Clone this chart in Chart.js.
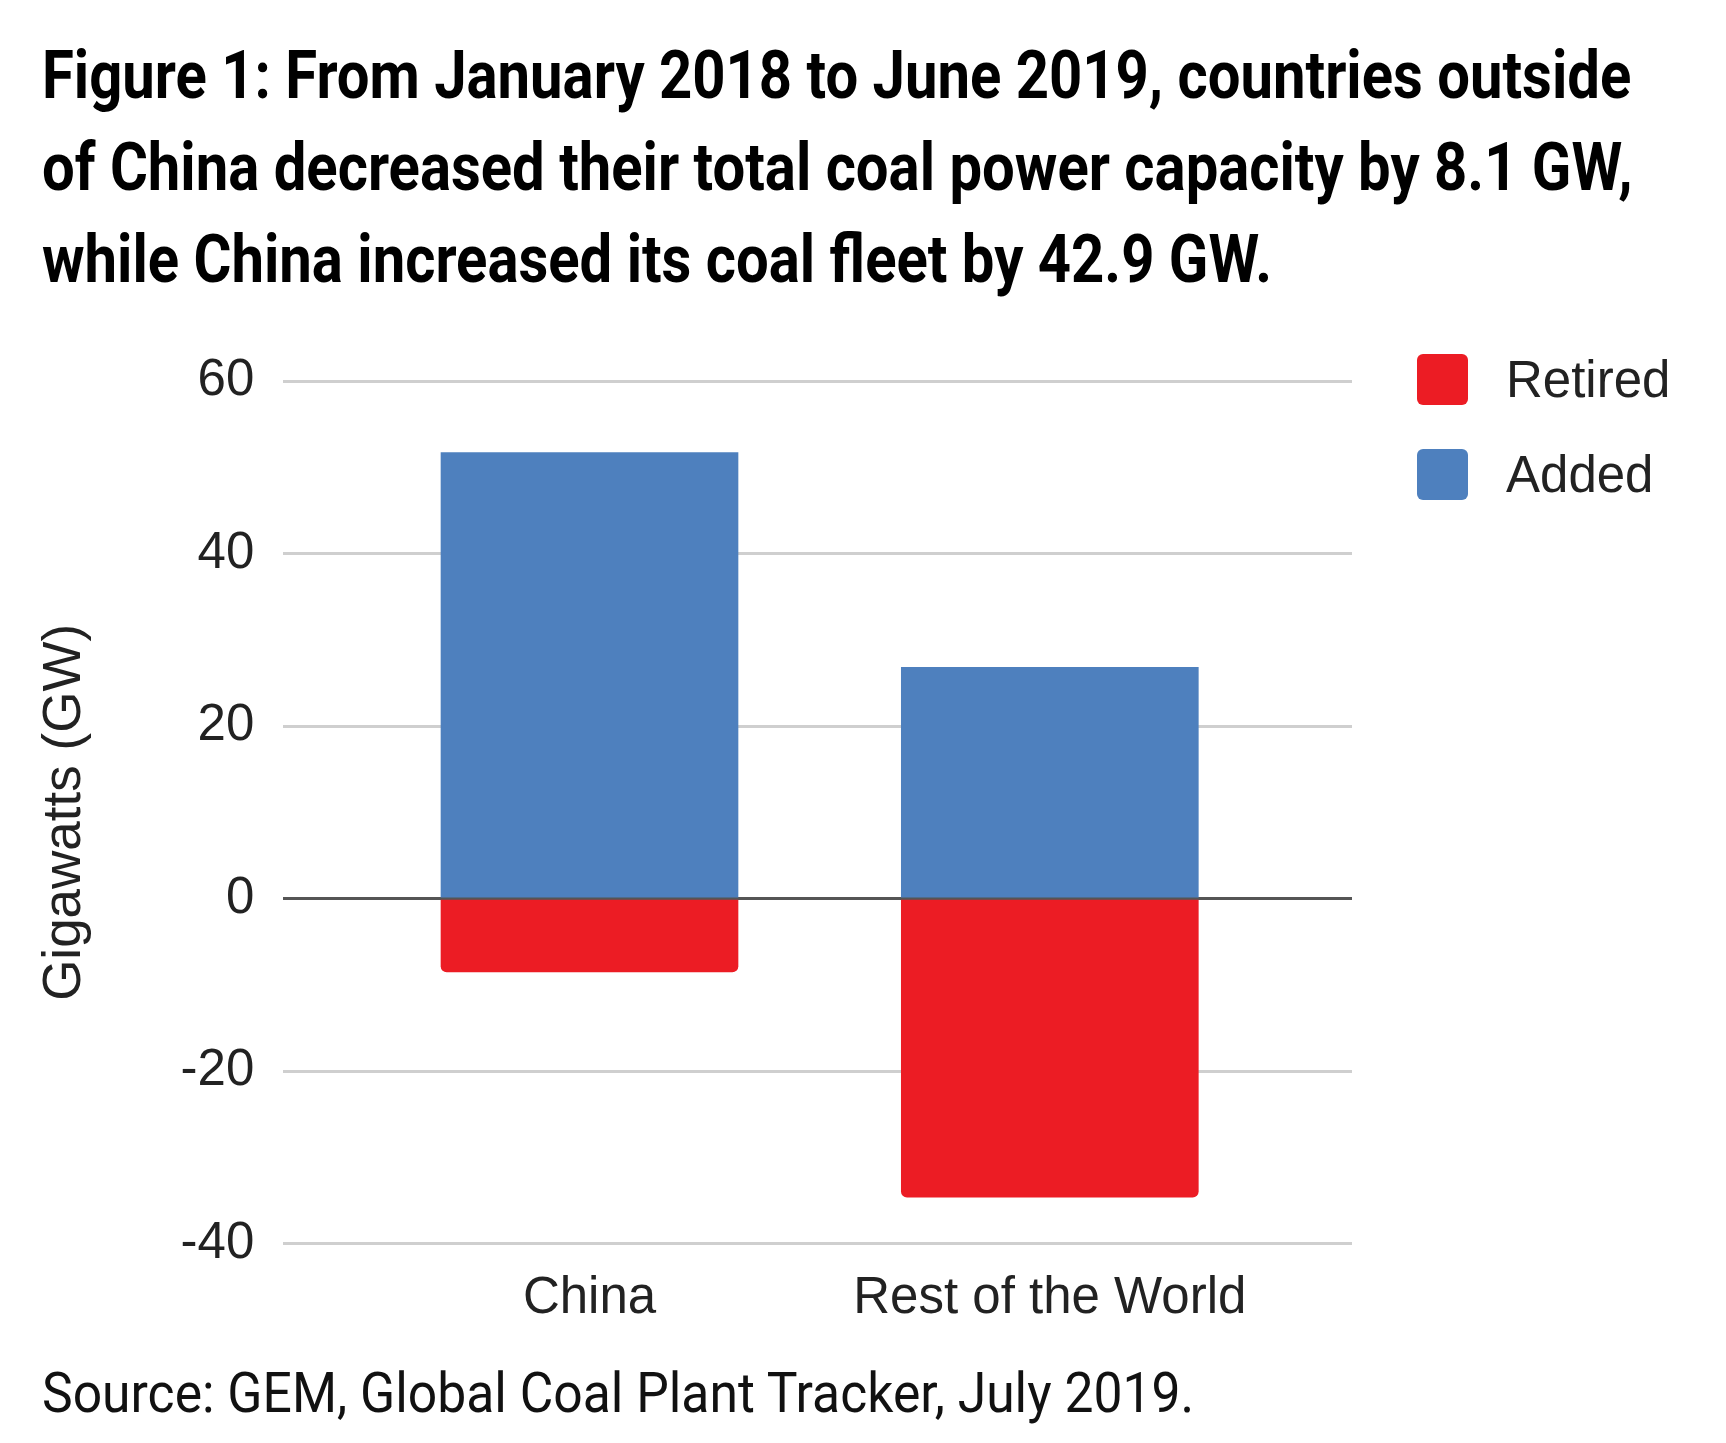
<!DOCTYPE html>
<html>
<head>
<meta charset="utf-8">
<script src="https://cdn.jsdelivr.net/npm/chart.js@4"></script>
<style>
  html, body { margin: 0; padding: 0; background: #fff; }
  body { width: 1726px; height: 1443px; position: relative; overflow: hidden; }
  #title { position: absolute; left: 42px; top: 30px; font-family: Roboto, sans-serif; font-weight: 700;
           font-size: 66px; line-height: 92px; color: #000; }
  #title span, #source span { display: inline-block; white-space: nowrap; transform-origin: 0 50%; }
  #source { position: absolute; left: 42px; top: 1365px; font-family: Roboto, sans-serif; font-size: 56px;
            line-height: 56px; color: #111; }
  #wrap { position: absolute; left: 0; top: 300px; width: 1726px; height: 1061px; }
  #legend { position: absolute; left: 1417px; top: 354px; font-family: "Liberation Sans", Arial, sans-serif;
            font-size: 51px; color: #222; }
  .item { height: 51px; display: flex; align-items: center; margin-bottom: 44px; }
  .swatch { width: 51px; height: 51px; border-radius: 6px; margin-right: 38px; }
</style>
</head>
<body>
<div id="title">
  <span class="tline">Figure 1: From January 2018 to June 2019, countries outside</span><br>
  <span class="tline">of China decreased their total coal power capacity by 8.1 GW,</span><br>
  <span class="tline">while China increased its coal fleet by 42.9 GW.</span>
</div>
<div id="wrap"><canvas id="chart"></canvas></div>
<div id="legend"></div>
<div id="source"><span id="srcText">Source: GEM, Global Coal Plant Tracker, July 2019.</span></div>

<script>
// dados
const categories = ["China", "Rest of the World"];
const retired = [-8.5, -34.6];
const added = [51.7, 26.8];
const yTicks = [60, 40, 20, 0, -20, -40];

const RED = "#ec1c24";
const BLUE = "#4e80be";
const FONT = "'Liberation Sans', Arial, sans-serif";

// título e fonte: largura igual à do original (fonte condensada)
const fitWidth = (els, target) => {
  const w = els[0].offsetWidth;
  const k = target / w;
  els.forEach(el => el.style.transform = `scaleX(${k})`);
};
fitWidth(Array.from(document.querySelectorAll(".tline")), 1589);
fitWidth([document.getElementById("srcText")], 1152);

// legenda
const legend = document.getElementById("legend");
[["Retired", RED], ["Added", BLUE]].forEach(([name, color]) => {
  const item = document.createElement("div");
  item.className = "item";
  item.innerHTML = `<div class="swatch" style="background:${color}"></div><span>${name}</span>`;
  legend.appendChild(item);
});

const toPoints = arr => arr.map((v, i) => ({ x: i, y: v }));

new Chart(document.getElementById("chart"), {
  type: "bar",
  data: {
    datasets: [
      { label: "Retired", data: toPoints(retired), backgroundColor: RED, borderRadius: 6, barThickness: 297 },
      { label: "Added", data: toPoints(added), backgroundColor: BLUE, borderRadius: 0, barThickness: 297 }
    ]
  },
  options: {
    responsive: true,
    maintainAspectRatio: false,
    animation: false,
    layout: { padding: { left: 34, right: 374, top: 81, bottom: 14 } },
    plugins: { legend: { display: false }, tooltip: { enabled: false } },
    scales: {
      x: {
        type: "linear",
        stacked: true,
        offset: false,
        min: -0.6652,
        max: 1.6565,
        afterBuildTicks: axis => { axis.ticks = categories.map((_, i) => ({ value: i })); },
        grid: { display: false, offset: false },
        border: { display: false },
        ticks: {
          autoSkip: false,
          maxRotation: 0,
          padding: 17,
          color: "#222",
          font: { family: FONT, size: 51 },
          callback: v => categories[v]
        }
      },
      y: {
        stacked: true,
        min: -40,
        max: 60,
        afterBuildTicks: axis => { axis.ticks = yTicks.map(v => ({ value: v })); },
        grid: {
          drawTicks: false,
          lineWidth: 3,
          color: ctx => ctx.tick && ctx.tick.value === 0 ? "#555" : "#cfcfcf"
        },
        border: { display: false },
        ticks: { padding: 29, color: "#222", font: { family: FONT, size: 51 } },
        title: {
          display: true,
          text: "Gigawatts (GW)",
          color: "#222",
          font: { family: FONT, size: 53 },
          padding: { top: 0, bottom: 54 }
        }
      }
    }
  }
});
</script>
</body>
</html>
